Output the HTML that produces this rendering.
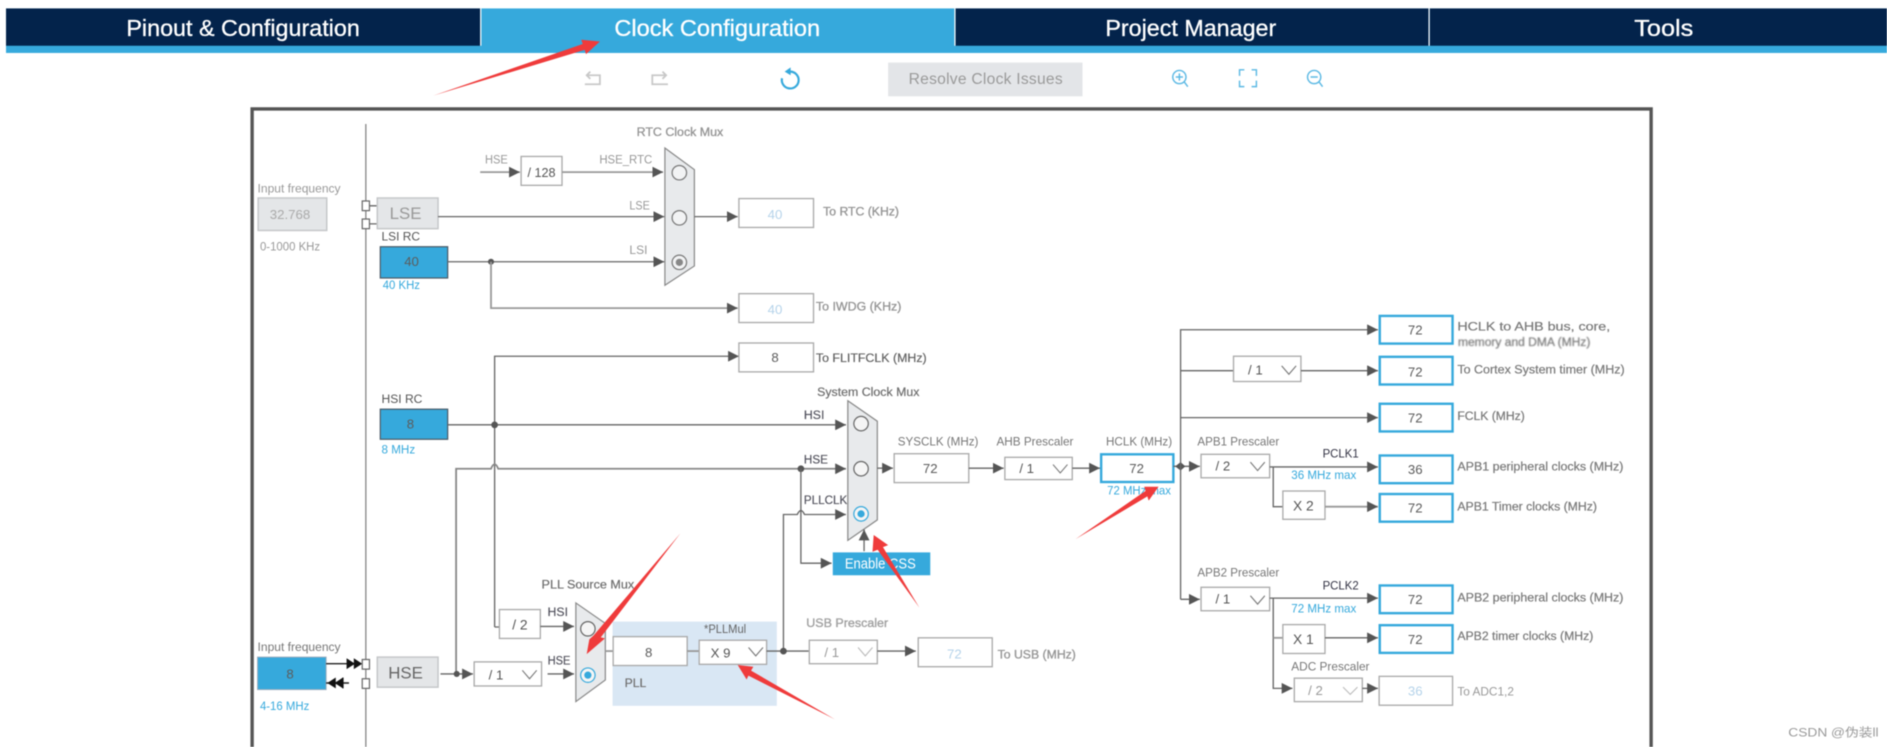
<!DOCTYPE html>
<html><head><meta charset="utf-8"><title>Clock Configuration</title>
<style>
html,body{margin:0;padding:0;background:#fff;width:1887px;height:747px;overflow:hidden}
svg{display:block;filter:blur(.4px)}
text{font-family:"Liberation Sans","Noto Sans CJK SC",sans-serif;font-size:9.800px;fill:#777}
.tab{font-size:19px;fill:#fff;text-anchor:middle;stroke:#fff;stroke-width:.25}
.b{stroke:#888;stroke-width:.22}
.g{fill:#999}
.d{fill:#445}
.bl{fill:#36a9dc}
.c{text-anchor:middle;font-size:11px;fill:#5c5c5c}
.f{text-anchor:middle;font-size:11px;fill:#b5d3ea}
.sel{font-size:11px;fill:#555}
.l{fill:none;stroke:#666;stroke-width:1.1}
.lg{fill:none;stroke:#999;stroke-width:1.5}
.bx{fill:#fff;stroke:#aaa;stroke-width:1.1}
.bb{fill:#fff;stroke:#36a9dc;stroke-width:2}
.blue{fill:#36a9dc;stroke:#4a5a66;stroke-width:1}
.gr{fill:#e4e6e8;stroke:#c4c6c8;stroke-width:1.2}
.ch{fill:none;stroke:#777;stroke-width:.9}
.r{fill:#ef3b3b}
</style></head><body>
<svg xmlns="http://www.w3.org/2000/svg" width="1887" height="747" viewBox="0 0 1568 620.7">
<defs><marker id="a" viewBox="0 0 10 10" refX="10" refY="5" markerWidth="9" markerHeight="9" orient="auto" markerUnits="userSpaceOnUse"><path d="M0 0L10 5L0 10Z" fill="#555"/></marker></defs>
<!-- tabs -->
<rect x="5" y="7" width="1563" height="37" fill="#36a9dc"/>
<rect x="5" y="7" width="394" height="31" fill="#03234b"/>
<rect x="794" y="7" width="393" height="31" fill="#03234b"/>
<rect x="1188" y="7" width="380" height="31" fill="#03234b"/>
<path d="M399.500 7V38M793.500 7V38M1187.500 7V38" stroke="#fff" stroke-width="1"/>
<text class="tab" x="202" y="30" textLength="194" lengthAdjust="spacingAndGlyphs">Pinout &amp; Configuration</text>
<text class="tab" x="596" y="30" textLength="171" lengthAdjust="spacingAndGlyphs">Clock Configuration</text>
<text class="tab" x="989.500" y="30" textLength="142" lengthAdjust="spacingAndGlyphs">Project Manager</text>
<text class="tab" x="1382.500" y="30" textLength="49" lengthAdjust="spacingAndGlyphs">Tools</text>
<!-- toolbar -->
<path d="M486 70H498.500V62.500H487.500M490.500 59.500L487.500 62.500L490.500 65.500" fill="none" stroke="#c8c8c8" stroke-width="1.500"/>
<path d="M555 70H542V62.500H553.500M550.500 59.500L553.500 62.500L550.500 65.500" fill="none" stroke="#c8c8c8" stroke-width="1.500"/>
<path d="M656.500 59.500A7 7 0 1 1 649.800 65" fill="none" stroke="#36a9dc" stroke-width="1.800"/><path d="M657 56L652 59.500L657 62.500Z" fill="#36a9dc"/>
<rect x="738" y="52" width="161.500" height="28" fill="#e3e5e8"/>
<text x="755" y="70" textLength="128" lengthAdjust="spacing" style="font-size:13px;fill:#9a9a9a">Resolve Clock Issues</text>
<g fill="none" stroke="#5cb9e4" stroke-width="1.2">
<circle cx="980" cy="64" r="5.500"/><path d="M984 68L987 72M977 64H983M980 61V67"/>
<path d="M1030 63V58H1034M1040 58H1044V63M1044 67V72H1040M1034 72H1030V67"/>
<circle cx="1092" cy="64" r="5.500"/><path d="M1096 68L1099 72M1089 64H1095"/>
</g>
<!-- frame -->
<path d="M209.500 621V90.500H1372V621" fill="none" stroke="#555" stroke-width="2.800"/>
<path d="M304 103V621" fill="none" stroke="#888" stroke-width="1.100"/>
<!-- left top -->
<text class="g" x="214" y="160" textLength="69" lengthAdjust="spacingAndGlyphs">Input frequency</text>
<rect class="gr" x="214.500" y="164.500" width="57" height="27"/>
<text class="c" x="241" y="182" style="fill:#aaa">32.768</text>
<text class="g" x="216" y="208" textLength="50" lengthAdjust="spacingAndGlyphs">0-1000 KHz</text>
<path class="l" d="M304 171H313M304 186H313"/>
<rect x="301" y="167" width="6" height="8" fill="#fff" stroke="#666"/><rect x="301" y="182" width="6" height="8" fill="#fff" stroke="#666"/>
<rect class="gr" x="313.500" y="164.500" width="50.500" height="25.500"/>
<text x="337" y="182" text-anchor="middle" style="font-size:14px;fill:#999">LSE</text>
<text x="317" y="200" textLength="32" lengthAdjust="spacingAndGlyphs" style="fill:#555">LSI RC</text>
<rect class="blue" x="316" y="205" width="56" height="26"/>
<text class="c" x="342" y="221">40</text>
<text class="bl" x="318" y="240" textLength="31" lengthAdjust="spacingAndGlyphs">40 KHz</text>
<path class="l" d="M364 180H552" marker-end="url(#a)"/>
<path class="l" d="M372 217.500H552" marker-end="url(#a)"/>
<circle cx="408" cy="217.500" r="2.500" fill="#555"/>
<path class="lg" d="M408 217.500V256H613" marker-end="url(#a)"/>
<text class="g" x="403" y="136" textLength="19" lengthAdjust="spacingAndGlyphs">HSE</text>
<path class="lg" d="M399 143H432" marker-end="url(#a)"/>
<rect class="bx" x="433" y="130" width="34" height="24"/>
<text x="450" y="147" text-anchor="middle" style="font-size:10.500px;fill:#555">/ 128</text>
<path class="lg" d="M467 143H551" marker-end="url(#a)"/>
<text class="g" x="498" y="136" textLength="44" lengthAdjust="spacingAndGlyphs">HSE_RTC</text>
<text class="g" x="523" y="174" textLength="17" lengthAdjust="spacingAndGlyphs">LSE</text>
<text class="g" x="523" y="211" textLength="15" lengthAdjust="spacingAndGlyphs">LSI</text>
<text class="g b" x="529" y="113" textLength="72" lengthAdjust="spacingAndGlyphs">RTC Clock Mux</text>
<path d="M552.500 123L577 141V221L552.500 237Z" fill="#e8eaec" stroke="#888"/>
<circle cx="564.500" cy="143.500" r="6" fill="#f2f3f4" stroke="#777"/>
<circle cx="564.500" cy="181" r="6" fill="#f2f3f4" stroke="#777"/>
<circle cx="564.500" cy="218" r="6" fill="#f2f3f4" stroke="#777"/><circle cx="564.500" cy="218" r="3" fill="#888"/>
<path class="l" d="M577 180H613" marker-end="url(#a)"/>
<rect class="bx" x="614" y="165" width="62" height="24"/>
<text class="f" x="644" y="182">40</text>
<text class="g b" x="684" y="179" textLength="63" lengthAdjust="spacingAndGlyphs">To RTC (KHz)</text>
<rect class="bx" x="614" y="244" width="62" height="24"/>
<text class="f" x="644" y="261">40</text>
<text class="g b" x="678" y="258" textLength="71" lengthAdjust="spacingAndGlyphs">To IWDG (KHz)</text>
<path class="l" d="M411 521H415M411 521V296H614" marker-end="url(#a)"/>
<rect class="bx" x="614" y="285" width="62" height="24"/>
<text class="c" x="644" y="301">8</text>
<text class="b" x="678" y="301" textLength="92" lengthAdjust="spacingAndGlyphs" style="fill:#555">To FLITFCLK (MHz)</text>
<!-- HSI -->
<text x="317" y="335" textLength="34" lengthAdjust="spacingAndGlyphs" style="fill:#555">HSI RC</text>
<rect class="blue" x="316" y="340" width="56" height="25"/>
<text class="c" x="341" y="356">8</text>
<text class="bl" x="317" y="377" textLength="28" lengthAdjust="spacingAndGlyphs">8 MHz</text>
<path class="l" d="M372 353H703" marker-end="url(#a)"/>
<circle cx="411" cy="353" r="2.800" fill="#555"/>
<text class="d b" x="668" y="348" textLength="17" lengthAdjust="spacingAndGlyphs">HSI</text>
<path class="lg" d="M379 560V389.500H408Q411 382 414 389.500H703" marker-end="url(#a)" style="stroke:#888"/>
<circle cx="665.500" cy="389.500" r="2.800" fill="#555"/>
<text class="d b" x="668" y="385" textLength="20" lengthAdjust="spacingAndGlyphs">HSE</text>
<path class="l" d="M665.500 389.500V468H691" marker-end="url(#a)"/>
<path class="l" d="M651 541V427.500H662.500Q665.500 421 668.500 427.500H703" marker-end="url(#a)"/>
<text class="d b" x="668" y="419" textLength="36" lengthAdjust="spacingAndGlyphs">PLLCLK</text>
<text class="b" x="679" y="329" textLength="85" lengthAdjust="spacingAndGlyphs" style="fill:#666">System Clock Mux</text>
<path d="M704.500 333L729 350V432L704.500 449Z" fill="#e8eaec" stroke="#888"/>
<circle cx="715.500" cy="352" r="6" fill="#f5f5f5" stroke="#666"/>
<circle cx="715.500" cy="389.500" r="6" fill="#f5f5f5" stroke="#666"/>
<circle cx="715.500" cy="427" r="6" fill="#f5f5f5" stroke="#36a9dc"/><circle cx="715.500" cy="427" r="3" fill="#36a9dc"/>
<path class="l" d="M718 458V440" marker-end="url(#a)"/>
<rect x="692" y="459" width="81" height="19" fill="#36a9dc"/>
<text x="702" y="472.500" textLength="59" lengthAdjust="spacingAndGlyphs" style="font-size:12px;fill:#fff">Enable CSS</text>
<!-- centre chain -->
<path class="l" d="M729 389H742" marker-end="url(#a)"/>
<text class="g" x="746" y="370" textLength="67" lengthAdjust="spacingAndGlyphs" style="fill:#777">SYSCLK (MHz)</text>
<rect class="bx" x="743" y="377" width="62" height="24"/>
<text class="c" x="773" y="393">72</text>
<path class="l" d="M805 389H834" marker-end="url(#a)"/>
<text x="828" y="370" textLength="64" lengthAdjust="spacingAndGlyphs">AHB Prescaler</text>
<rect class="bx" x="835" y="380" width="56" height="18.500"/>
<text class="sel" x="847" y="393">/ 1</text><path class="ch" d="M875 386L881 393L887 386"/>
<path class="l" d="M891 389H914" marker-end="url(#a)"/>
<text x="919" y="370" textLength="55" lengthAdjust="spacingAndGlyphs">HCLK (MHz)</text>
<rect class="bb" x="915" y="377.500" width="60" height="23"/>
<text class="c" x="944.500" y="393">72</text>
<text class="bl" x="920" y="411" textLength="53" lengthAdjust="spacingAndGlyphs">72 MHz max</text>
<!-- bus -->
<path class="l" d="M975 387.500H997" marker-end="url(#a)"/>
<path d="M976.500 387.500L981 384L985 387.500L981 391Z" fill="#555"/>
<path class="l" d="M981 498V274H1145" marker-end="url(#a)"/>
<path class="l" d="M981 498H997" marker-end="url(#a)"/>
<path class="l" d="M981 308H1025"/>
<rect class="bx" x="1025" y="296" width="56" height="21"/>
<text class="sel" x="1037" y="311">/ 1</text><path class="ch" d="M1065 304L1071 311L1077 304"/>
<path class="l" d="M1081 308H1145" marker-end="url(#a)"/>
<path class="l" d="M981 347H1145" marker-end="url(#a)"/>
<rect class="bb" x="1146.500" y="262.500" width="60.500" height="23"/><text class="c" x="1176" y="278">72</text>
<text class="b" x="1211" y="274.500" textLength="127" lengthAdjust="spacingAndGlyphs">HCLK to AHB bus, core,</text>
<svg x="1205" y="276" width="150" height="9" viewBox="0 0 150 9"><text class="b" x="6.500" y="11.500" textLength="110" lengthAdjust="spacingAndGlyphs">memory and DMA (MHz)</text></svg>
<rect class="bb" x="1146.500" y="296.500" width="60.500" height="23"/><text class="c" x="1176" y="313">72</text>
<text class="b" x="1211" y="310.500" textLength="139" lengthAdjust="spacingAndGlyphs">To Cortex System timer (MHz)</text>
<rect class="bb" x="1146.500" y="335.500" width="60.500" height="23"/><text class="c" x="1176" y="351">72</text>
<text class="b" x="1211" y="349" textLength="56" lengthAdjust="spacingAndGlyphs">FCLK (MHz)</text>
<!-- APB1 -->
<text x="995" y="370" textLength="68" lengthAdjust="spacingAndGlyphs">APB1 Prescaler</text>
<rect class="bx" x="998" y="377.500" width="57" height="19.500"/>
<text class="sel" x="1010" y="391">/ 2</text><path class="ch" d="M1039 384L1045 391L1051 384"/>
<path class="l" d="M1055 388H1145" marker-end="url(#a)"/>
<text class="d" x="1099" y="380" textLength="30" lengthAdjust="spacingAndGlyphs" style="fill:#334">PCLK1</text>
<text class="bl" x="1073" y="398" textLength="54" lengthAdjust="spacingAndGlyphs">36 MHz max</text>
<rect class="bb" x="1146.500" y="378.500" width="60.500" height="23"/><text class="c" x="1176" y="394">36</text>
<text class="b" x="1211" y="391" textLength="138" lengthAdjust="spacingAndGlyphs">APB1 peripheral clocks (MHz)</text>
<path class="l" d="M1058 388V421H1066"/>
<rect class="bx" x="1066" y="408" width="35" height="23.500"/>
<text x="1083" y="424" text-anchor="middle" style="font-size:11.500px;fill:#555">X 2</text>
<path class="lg" d="M1101 421H1145" marker-end="url(#a)"/>
<rect class="bb" x="1146.500" y="410.500" width="60.500" height="23"/><text class="c" x="1176" y="426">72</text>
<text class="b" x="1211" y="424" textLength="116" lengthAdjust="spacingAndGlyphs">APB1 Timer clocks (MHz)</text>
<!-- APB2 -->
<text x="995" y="479" textLength="68" lengthAdjust="spacingAndGlyphs">APB2 Prescaler</text>
<rect class="bx" x="998" y="488" width="57" height="19.500"/>
<text class="sel" x="1010" y="501.500">/ 1</text><path class="ch" d="M1039 495L1045 502L1051 495"/>
<path class="l" d="M1055 497H1145" marker-end="url(#a)"/>
<text class="d" x="1099" y="490" textLength="30" lengthAdjust="spacingAndGlyphs" style="fill:#334">PCLK2</text>
<text class="bl" x="1073" y="509" textLength="54" lengthAdjust="spacingAndGlyphs">72 MHz max</text>
<rect class="bb" x="1146.500" y="486.500" width="60.500" height="23"/><text class="c" x="1176" y="502">72</text>
<text class="b" x="1211" y="500" textLength="138" lengthAdjust="spacingAndGlyphs">APB2 peripheral clocks (MHz)</text>
<path class="l" d="M1058 497V572H1074" marker-end="url(#a)"/>
<path class="lg" d="M1058 530H1066"/>
<rect class="bx" x="1066" y="519" width="35" height="24"/>
<text x="1083" y="535" text-anchor="middle" style="font-size:11.500px;fill:#555">X 1</text>
<path class="l" d="M1101 530H1145" marker-end="url(#a)"/>
<rect class="bb" x="1146.500" y="519.500" width="60.500" height="23"/><text class="c" x="1176" y="535">72</text>
<text class="b" x="1211" y="532" textLength="113" lengthAdjust="spacingAndGlyphs">APB2 timer clocks (MHz)</text>
<text x="1073" y="557" textLength="65" lengthAdjust="spacingAndGlyphs">ADC Prescaler</text>
<rect class="bx" x="1075.500" y="563.500" width="56.500" height="19.500"/>
<text class="sel g" x="1087" y="577.500" style="fill:#999">/ 2</text><path class="ch" d="M1116 571L1122 577L1128 571" style="stroke:#bbb"/>
<path class="l" d="M1132 572H1145" marker-end="url(#a)"/>
<rect class="bx" x="1146" y="562" width="61" height="24"/><text class="f" x="1176" y="578">36</text>
<text class="g" x="1211" y="578" textLength="47" lengthAdjust="spacingAndGlyphs">To ADC1,2</text>
<!-- lower left -->
<text x="214" y="541" textLength="69" lengthAdjust="spacingAndGlyphs">Input frequency</text>
<rect x="214" y="546" width="57" height="27" fill="#36a9dc" stroke="#9ab" stroke-width=".8"/>
<text class="c" x="241" y="564">8</text>
<text class="bl" x="216" y="590" textLength="41" lengthAdjust="spacingAndGlyphs">4-16 MHz</text>
<path d="M271 551.500H290M271 567.500H290" stroke="#222" stroke-width="1.200"/>
<path d="M288 547L295 551.500L288 556ZM294 547L301 551.500L294 556ZM285 563L278 567.500L285 572ZM279 563L272 567.500L279 572Z" fill="#111"/>
<path d="M285 563V572" stroke="#111"/>
<rect x="301" y="548" width="6" height="8" fill="#fff" stroke="#666"/><rect x="301" y="564" width="6" height="8" fill="#fff" stroke="#666"/>
<rect class="gr" x="313.500" y="546" width="50.500" height="25"/>
<text x="337" y="564" text-anchor="middle" style="font-size:14px;fill:#666">HSE</text>
<path class="l" d="M366 560H393" marker-end="url(#a)"/>
<circle cx="379.500" cy="560" r="2.500" fill="#555"/>
<rect class="bx" x="394" y="550" width="56" height="20"/>
<text class="sel" x="406" y="564.500">/ 1</text><path class="ch" d="M434 557L440 564L446 557"/>
<path class="l" d="M455 560H477" marker-end="url(#a)"/>
<text class="d b" x="455" y="552" textLength="19" lengthAdjust="spacingAndGlyphs">HSE</text>
<text class="d b" x="455" y="512" textLength="17" lengthAdjust="spacingAndGlyphs">HSI</text>
<rect class="bx" x="415" y="506.500" width="34" height="24"/>
<text x="432" y="523" text-anchor="middle" style="font-size:11.500px;fill:#555">/ 2</text>
<path class="l" d="M449 520.500H477" marker-end="url(#a)"/>
<text class="b" x="450" y="489" textLength="77" lengthAdjust="spacingAndGlyphs" style="fill:#666">PLL  Source Mux</text>
<path d="M478.500 501L503 518V565L478.500 583Z" fill="#e8eaec" stroke="#888"/>
<circle cx="488.500" cy="522.500" r="6" fill="#f5f5f5" stroke="#666"/>
<circle cx="488.500" cy="561" r="6" fill="#f5f5f5" stroke="#36a9dc"/><circle cx="488.500" cy="561" r="3" fill="#36a9dc"/>
<rect x="509" y="516.500" width="136.500" height="70" fill="#d9e7f4"/>
<path class="lg" d="M503 541H509"/>
<rect class="bx" x="509.500" y="529" width="61.500" height="24"/>
<text class="c" x="539" y="546">8</text>
<path class="lg" d="M571 541H581"/>
<text x="585" y="526" textLength="35" lengthAdjust="spacingAndGlyphs" style="fill:#666">*PLLMul</text>
<rect class="bx" x="581" y="532" width="56" height="20"/>
<text class="sel" x="590.500" y="546.500">X 9</text><path class="ch" d="M622 538L628 545L634 538"/>
<path class="l" d="M637 541H672"/>
<circle cx="651" cy="541" r="2.800" fill="#555"/>
<text class="b" x="519" y="571" textLength="18" lengthAdjust="spacingAndGlyphs" style="fill:#666">PLL</text>
<text class="g b" x="670" y="521" textLength="68" lengthAdjust="spacingAndGlyphs" style="fill:#aaa">USB Prescaler</text>
<rect class="bx" x="672.500" y="532" width="56.500" height="19.500"/>
<text class="sel" x="685" y="546" style="fill:#999">/ 1</text><path class="ch" d="M713 538L719 545L725 538" style="stroke:#bbb"/>
<path class="l" d="M729 541H761" marker-end="url(#a)"/>
<rect class="bx" x="763" y="530" width="61.500" height="24"/>
<text class="f" x="793" y="547">72</text>
<text class="g b" x="829" y="547" textLength="65" lengthAdjust="spacingAndGlyphs">To USB (MHz)</text>
<!-- red arrows -->
<polygon class="r" points="360,79.500 484.200,36.600 483,33 498.500,34.500 487,45 485.800,41.400"/>
<polygon class="r" points="893.700,448 951.900,407.900 950.800,404.500 962.700,404.500 954.500,416 953.400,412.500"/>
<polygon class="r" points="565.500,443 493.300,528 489.700,531.300 487.500,543.500 502.700,530.400 499.200,529.600"/>
<polygon class="r" points="764,505 729.300,456.800 725,458.500 726,444.600 738,453 733.700,454.600"/>
<polygon class="r" points="693.800,597.800 621.900,561.400 620.400,564.600 613,552.600 626,554 624.100,557.200"/>
<!-- watermark -->
<text x="1486" y="612" textLength="75" lengthAdjust="spacingAndGlyphs" style="font-size:10px;fill:#999">CSDN @伪装ll</text>
</svg>
</body></html>
